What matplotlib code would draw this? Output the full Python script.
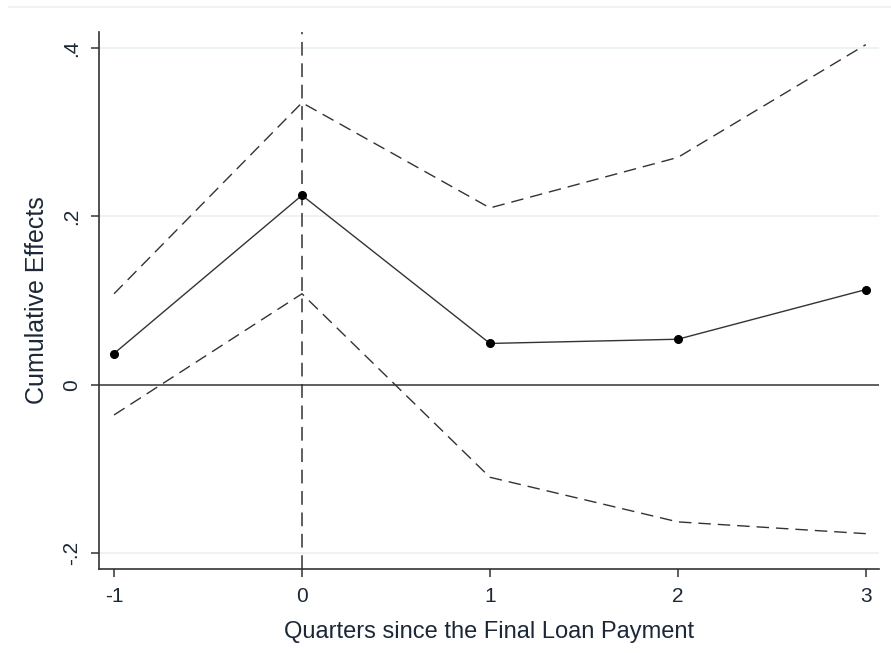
import matplotlib
matplotlib.use("Agg")
import matplotlib.pyplot as plt
from matplotlib.lines import Line2D

plt.rcParams['font.family'] = ['Liberation Sans', 'DejaVu Sans']

quarters = [-1, 0, 1, 2, 3]
effect = [0.037, 0.225, 0.049, 0.054, 0.113]
upper_ci = [0.108, 0.335, 0.210, 0.270, 0.404]
lower_ci = [-0.036, 0.108, -0.110, -0.163, -0.177]

ytick_vals = [-0.2, 0, 0.2, 0.4]
ytick_labels = ['-.2', '0', '.2', '.4']

text_col = "#1c2838"
line_col = "#333333"
grid_col = "#eaf1f3"

fig = plt.figure(figsize=(8.91, 6.53), dpi=100)
ax = fig.add_axes([0.1111, 0.1286, 0.8754, 0.8224])

# light border line across the top of the graph region
fig.add_artist(Line2D([0.01, 1.0], [0.989, 0.989], transform=fig.transFigure,
                      color=grid_col, lw=1.2))

for y in ytick_vals:
    if y != 0:
        ax.axhline(y, color=grid_col, lw=1.2, zorder=0)
ax.axhline(0, color=line_col, lw=1.1, zorder=1)
ax.axvline(0, color=line_col, lw=1.1, ls=(0, (9, 5)), zorder=1)

ax.plot(quarters, upper_ci, color=line_col, lw=1.0, ls=(0, (9, 5)))
ax.plot(quarters, lower_ci, color=line_col, lw=1.0, ls=(0, (9, 5)))
ax.plot(quarters, effect, color=line_col, lw=1.0, marker='o', ms=5.5,
        mfc='black', mec='black')

ax.set_xlim(-1.08, 3.07)
ax.set_ylim(-0.219, 0.419)
ax.set_xticks(quarters)
ax.set_xticklabels([str(q) for q in quarters])
ax.set_yticks(ytick_vals)
ax.set_yticklabels(ytick_labels, rotation=90, va='center')

for side in ['top', 'right']:
    ax.spines[side].set_visible(False)
for side in ['left', 'bottom']:
    ax.spines[side].set_color(line_col)
    ax.spines[side].set_linewidth(1.2)

ax.tick_params(colors=line_col, labelcolor=text_col, labelsize=15,
               length=6, width=1.1, pad=7)
ax.set_xlabel("Quarters since the Final Loan Payment", fontsize=17,
              color=text_col, labelpad=11)
ax.set_ylabel("Cumulative Effects", fontsize=18, color=text_col, labelpad=9)

fig.savefig("out.png", dpi=100, facecolor='white')
